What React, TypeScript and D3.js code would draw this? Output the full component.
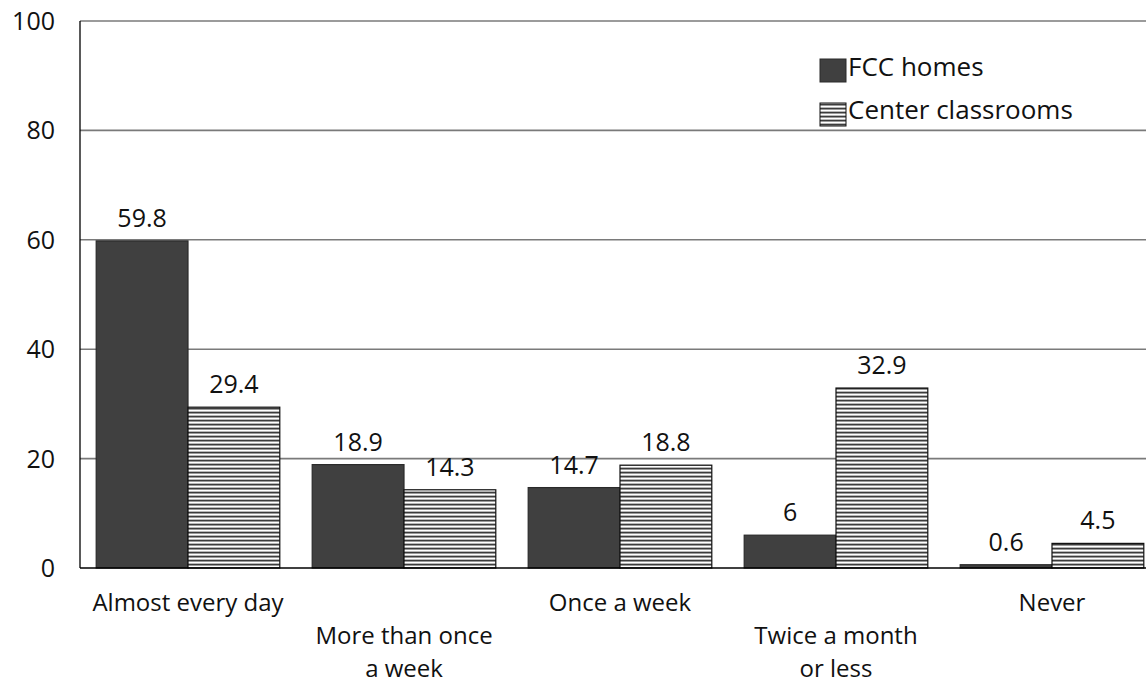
import React from "react";
import * as d3 from "d3";

const categories: string[][] = [
  ["Almost every day"],
  ["More than once", "a week"],
  ["Once a week"],
  ["Twice a month", "or less"],
  ["Never"],
];
const categoryKeys = ["c0", "c1", "c2", "c3", "c4"];
const seriesNames = ["FCC homes", "Center classrooms"];
const fccValues = [59.8, 18.9, 14.7, 6, 0.6];
const centerValues = [29.4, 14.3, 18.8, 32.9, 4.5];
const yTicks = [0, 20, 40, 60, 80, 100];

const W = 1146;
const H = 687;
const FONT = "'Open Sans', 'DejaVu Sans', sans-serif";

export default function App() {
  const left = 80;
  const right = 1160;
  const top = 21;
  const bottom = 568;

  const x = d3
    .scaleBand<string>()
    .domain(categoryKeys)
    .range([left, right])
    .paddingInner(0.15)
    .paddingOuter(0.075);
  const inner = d3
    .scaleBand<string>()
    .domain(seriesNames)
    .range([0, x.bandwidth()]);
  const y = d3.scaleLinear().domain([0, 100]).range([bottom, top]);

  const series = [
    { name: seriesNames[0], values: fccValues, fill: "#404040", stroke: "#2a2a2a" },
    { name: seriesNames[1], values: centerValues, fill: "url(#stripes)", stroke: "#111" },
  ];

  return (
    <svg
      width={W}
      height={H}
      style={{ position: "absolute", left: 0, top: 0, background: "#fff" }}
      fontFamily={FONT}
    >
      <defs>
        <pattern id="stripes" width="8" height="4" patternUnits="userSpaceOnUse">
          <rect x="0" y="0" width="8" height="1" fill="#3c3c3c" />
          <rect x="0" y="1" width="8" height="1" fill="#9a9a9a" />
          <rect x="0" y="2" width="8" height="1" fill="#ffffff" />
          <rect x="0" y="3" width="8" height="1" fill="#b8b8b8" />
        </pattern>
      </defs>
      <rect x={0} y={0} width={W} height={H} fill="#fff" />

      {/* gridlines */}
      {yTicks.filter((t) => t > 0).map((t) => (
        <line
          key={"g" + t}
          x1={left}
          x2={W}
          y1={y(t)}
          y2={y(t)}
          stroke="#7a7a7a"
          strokeWidth={1.6}
        />
      ))}

      {/* bars */}
      {series.map((s) =>
        s.values.map((v, i) => {
          const bx = (x(categoryKeys[i]) ?? 0) + (inner(s.name) ?? 0);
          const by = y(v);
          return (
            <g key={s.name + i}>
              <rect
                x={bx}
                y={by}
                width={inner.bandwidth()}
                height={bottom - by}
                fill={s.fill}
                stroke={s.stroke}
                strokeWidth={1.2}
              />
              <text
                x={bx + inner.bandwidth() / 2}
                y={by - 14}
                textAnchor="middle"
                fontSize={25}
                fill="#111"
              >
                {String(v)}
              </text>
            </g>
          );
        })
      )}

      {/* axes */}
      <line x1={left} x2={left} y1={top} y2={bottom} stroke="#000" strokeWidth={1.3} />
      <line x1={left} x2={W} y1={bottom} y2={bottom} stroke="#000" strokeWidth={1.3} />

      {/* y tick labels */}
      {yTicks.map((t) => (
        <text
          key={"yt" + t}
          x={55}
          y={y(t) + 9}
          textAnchor="end"
          fontSize={25}
          fill="#111"
        >
          {t}
        </text>
      ))}

      {/* x labels */}
      {categories.map((lines, i) => {
        const cx = (x(categoryKeys[i]) ?? 0) + x.bandwidth() / 2;
        const base = i % 2 === 0 ? 611 : 644;
        return lines.map((ln, j) => (
          <text
            key={"xl" + i + "-" + j}
            x={cx}
            y={base + j * 33}
            textAnchor="middle"
            fontSize={24}
            fill="#111"
          >
            {ln}
          </text>
        ));
      })}

      {/* legend */}
      {series.map((s, i) => (
        <g key={"lg" + i}>
          <rect
            x={820}
            y={59 + i * 44}
            width={26}
            height={23}
            fill={s.fill}
            stroke={s.stroke}
            strokeWidth={1}
          />
          <text x={848} y={76 + i * 43} fontSize={26} fill="#111">
            {s.name}
          </text>
        </g>
      ))}
    </svg>
  );
}
